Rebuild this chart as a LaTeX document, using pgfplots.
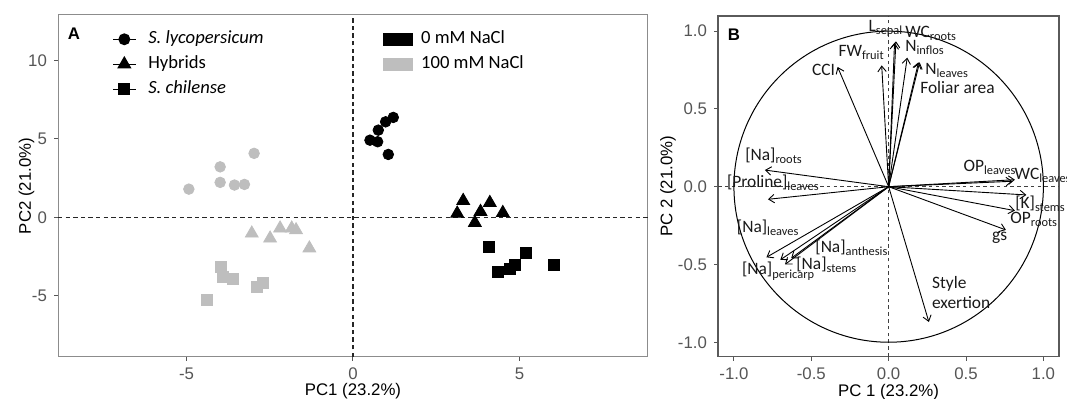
\documentclass[border=0pt]{standalone}
\usepackage{fontspec}
\setmainfont{Carlito}
\newfontfamily\arial{Liberation Sans}
\usepackage{pgfplots}
\pgfplotsset{compat=1.18}
\usetikzlibrary{arrows.meta}
\definecolor{ptgray}{HTML}{BEBEBE}
\definecolor{tickgray}{HTML}{555555}
\definecolor{borderA}{HTML}{8C8C8C}
\definecolor{borderB}{HTML}{5A5A5A}
\newcommand\sub[1]{\raisebox{-1.6pt}{\fontsize{6.2}{7}\selectfont #1}}
\tikzset{lab/.style={font=\fontsize{8.7}{10}\selectfont, text=black!90, inner sep=0pt, anchor=base west}}
\begin{document}
\begin{tikzpicture}
\path[use as bounding box] (0,0) rectangle (533.5pt,199.5pt);
\pgfplotsset{
 common/.style={
  scale only axis, anchor=south west, clip=false,
  tick align=outside, tick pos=left, major tick length=2pt,
  every tick/.style={tickgray, line width=0.5pt},
  tick label style={font=\arial\fontsize{8.4}{10}\selectfont, text=tickgray},
  /pgf/number format/assume math mode=true,
  label style={font=\arial\fontsize{8.4}{10}\selectfont},
 },
 leg/.style={draw=none, fill=none, inner sep=0pt, anchor=north west,
  /tikz/row sep=4pt, font=\fontsize{9.3}{10}\selectfont,
  nodes={inner sep=0pt, text height=6.5pt, text depth=2pt}},
 arr/.style={black, line width=0.45pt, -{Straight Barb[length=2.8pt,width=4.2pt]}, forget plot},
}
% ---------------- Panel A ----------------
\begin{axis}[common, at={(29pt,21pt)}, width=295pt, height=171pt,
  xmin=-8.86, xmax=8.86, ymin=-8.9, ymax=12.9,
  xtick={-5,0,5}, ytick={-5,0,5,10},
  axis line style={borderA, line width=0.5pt},
  xlabel={PC1 (23.2\%)}, ylabel={PC2 (21.0\%)},
  xlabel style={at={(axis description cs:0.5,-0.1)}, anchor=center},
  ylabel style={at={(axis description cs:-0.0534,0.5)}, anchor=center},
  legend style={leg, at={(axis description cs:0.0915,0.955)}, /tikz/column sep=6pt},
  legend cell align=left,
  legend image code/.code={\draw[mark repeat=2,mark phase=2,#1] plot coordinates {(0pt,0pt)(5.65pt,0pt)(11.3pt,0pt)};},
]
\draw[dash pattern=on 2.2pt off 1.6pt, line width=0.55pt, black!85] (axis cs:0,-8.9) -- (axis cs:0,12.9);
\draw[dash pattern=on 2.2pt off 1.6pt, line width=0.55pt, black!85] (axis cs:-8.86,0) -- (axis cs:8.86,0);
% 100 mM NaCl
\addplot[only marks, forget plot, ptgray, mark=*, mark size=2.65pt] coordinates {
(-2.97,4.08)(-3.99,3.22)(-3.99,2.23)(-3.56,2.06)(-3.26,2.10)(-4.93,1.80)};
\addplot[only marks, forget plot, ptgray, mark=triangle*, mark size=3.7pt] coordinates {
(-3.04,-1.02)(-2.49,-1.34)(-2.19,-0.70)(-1.84,-0.70)(-1.71,-0.81)(-1.31,-1.97)};
\addplot[only marks, forget plot, ptgray, mark=square*, mark size=2.75pt] coordinates {
(-3.97,-3.18)(-3.91,-3.78)(-3.62,-3.93)(-2.89,-4.42)(-2.72,-4.20)(-4.38,-5.27)};
% 0 mM NaCl
\addplot[only marks, forget plot, black, mark=*, mark size=2.65pt] coordinates {
(1.21,6.37)(0.98,6.09)(0.76,5.56)(0.51,4.92)(0.74,4.82)(1.06,4.01)};
\addplot[only marks, forget plot, black, mark=triangle*, mark size=3.7pt] coordinates {
(3.31,1.06)(4.11,0.93)(3.13,0.25)(3.83,0.36)(4.50,0.29)(3.66,-0.34)};
\addplot[only marks, forget plot, black, mark=square*, mark size=2.75pt] coordinates {
(4.09,-1.87)(5.19,-2.25)(4.87,-3.06)(4.71,-3.27)(4.35,-3.46)(6.02,-3.02)};
\addlegendimage{black, line width=0.65pt, mark=*, mark size=2.65pt}
\addlegendentry{\textit{S. lycopersicum}}
\addlegendimage{black, line width=0.65pt, mark=triangle*, mark size=3.5pt}
\addlegendentry{Hybrids}
\addlegendimage{black, line width=0.65pt, mark=square*, mark size=2.6pt}
\addlegendentry{\textit{S. chilense}}
\node[font=\arial\bfseries\fontsize{8.4}{10}\selectfont] at (axis description cs:0.027,0.944) {A};
\end{axis}
% NaCl legend
\begin{axis}[scale only axis, anchor=south west, at={(29pt,21pt)}, width=295pt, height=171pt,
  hide axis, xmin=0, xmax=1, ymin=0, ymax=1,
  legend style={leg, at={(axis description cs:0.5508,0.955)}, /tikz/column sep=4pt},
  legend cell align=left,
  legend image code/.code={\fill[#1] (0pt,-3pt) rectangle (14.5pt,3pt);},
]
\addlegendimage{black}
\addlegendentry{0 mM NaCl}
\addlegendimage{ptgray}
\addlegendentry{100 mM NaCl}
\end{axis}
% ---------------- Panel B ----------------
\begin{axis}[common, at={(359pt,21.15pt)}, width=170.5pt, height=170.3pt,
  xmin=-1.103, xmax=1.101, ymin=-1.093, ymax=1.097,
  xtick={-1,-0.5,0,0.5,1}, ytick={-1,-0.5,0,0.5,1},
  x tick label style={/pgf/number format/fixed, /pgf/number format/fixed zerofill, /pgf/number format/precision=1},
  y tick label style={/pgf/number format/fixed, /pgf/number format/fixed zerofill, /pgf/number format/precision=1},
  axis line style={borderB, line width=0.6pt},
  xlabel={PC 1 (23.2\%)}, ylabel={PC 2 (21.0\%)},
  xlabel style={at={(axis description cs:0.5,-0.103)}, anchor=center},
  ylabel style={at={(axis description cs:-0.1466,0.5)}, anchor=center},
]
\draw[dash pattern=on 1.8pt off 1.6pt, line width=0.5pt, black!75] (axis cs:0,-1.093) -- (axis cs:0,1.097);
\draw[dash pattern=on 1.8pt off 1.6pt, line width=0.5pt, black!75] (axis cs:-1.103,0) -- (axis cs:1.101,0);
\draw[line width=0.5pt] (axis cs:0,0) ellipse [x radius=1, y radius=1];
\addplot[arr] coordinates {(0,0) (-0.33,0.77)};   % CCI
\addplot[arr] coordinates {(0,0) (-0.045,0.78)};  % FW fruit
\addplot[arr] coordinates {(0,0) (0.038,0.925)};  % L sepal
\addplot[arr] coordinates {(0,0) (0.047,0.935)};  % WC roots
\addplot[arr] coordinates {(0,0) (0.12,0.83)};    % N inflos
\addplot[arr] coordinates {(0,0) (0.20,0.80)};    % N leaves
\addplot[arr] coordinates {(0,0) (0.193,0.80)};   % Foliar area
\addplot[arr] coordinates {(0,0) (-0.80,0.107)};  % Na roots
\addplot[arr] coordinates {(0,0) (-0.78,-0.081)}; % Proline leaves
\addplot[arr] coordinates {(0,0) (0.80,0.035)};   % OP leaves
\addplot[arr] coordinates {(0,0) (0.816,0.045)};  % WC leaves
\addplot[arr] coordinates {(0,0) (0.89,-0.053)};  % K stems
\addplot[arr] coordinates {(0,0) (0.816,-0.154)}; % OP roots
\addplot[arr] coordinates {(0,0) (0.758,-0.278)}; % gs
\addplot[arr] coordinates {(0,0) (-0.79,-0.454)}; % Na leaves
\addplot[arr] coordinates {(0,0) (-0.70,-0.47)};  % Na pericarp
\addplot[arr] coordinates {(0,0) (-0.63,-0.46)};  % Na anthesis
\addplot[arr] coordinates {(0,0) (-0.67,-0.50)};  % Na stems
\addplot[arr] coordinates {(0,0) (0.26,-0.87)};   % Style exertion
\node[lab] at (axis cs:-0.498,0.718) {CCI};
\node[lab] at (axis cs:-0.326,0.84) {FW\sub{fruit}};
\node[lab] at (axis cs:-0.132,0.996) {L\sub{sepal}};
\node[lab] at (axis cs:0.105,0.96) {WC\sub{roots}};
\node[lab] at (axis cs:0.105,0.872) {N\sub{inflos}};
\node[lab] at (axis cs:0.235,0.724) {N\sub{leaves}};
\node[lab] at (axis cs:0.202,0.60) {Foliar area};
\node[lab] at (axis cs:-0.929,0.167) {[Na]\sub{roots}};
\node[lab] at (axis cs:-1.047,-0.004) {[Proline]\sub{leaves}};
\node[lab] at (axis cs:0.482,0.10) {OP\sub{leaves}};
\node[lab] at (axis cs:0.812,0.045) {WC\sub{leaves}};
\node[lab] at (axis cs:0.816,-0.139) {[K]\sub{stems}};
\node[lab] at (axis cs:0.784,-0.235) {OP\sub{roots}};
\node[lab] at (axis cs:0.666,-0.343) {gs};
\node[lab] at (axis cs:-0.983,-0.296) {[Na]\sub{leaves}};
\node[lab] at (axis cs:-0.476,-0.424) {[Na]\sub{anthesis}};
\node[lab] at (axis cs:-0.599,-0.531) {[Na]\sub{stems}};
\node[lab] at (axis cs:-0.950,-0.567) {[Na]\sub{pericarp}};
\node[lab] at (axis cs:0.278,-0.653) {Style};
\node[lab] at (axis cs:0.278,-0.782) {exertion};
\node[font=\arial\bfseries\fontsize{8.4}{10}\selectfont] at (axis description cs:0.047,0.944) {B};
\end{axis}
\end{tikzpicture}
\end{document}
